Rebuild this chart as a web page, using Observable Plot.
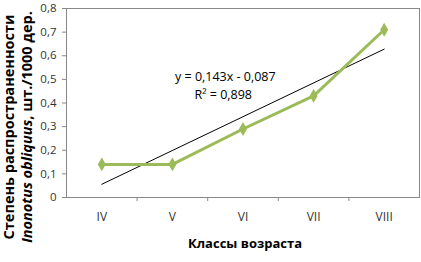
<!DOCTYPE html>
<html><head><meta charset="utf-8">
<script src="https://cdn.jsdelivr.net/npm/d3@7"></script>
<script src="https://cdn.jsdelivr.net/npm/@observablehq/plot@0.6"></script>
<style>body{margin:0;background:#fff;} svg{font-family:"Open Sans",sans-serif;}</style>
</head><body><div id="chart"></div>
<script>
const categories = ["IV", "V", "VI", "VII", "VIII"];
const values = [0.14, 0.14, 0.29, 0.43, 0.71];
const slope = 0.143, intercept = -0.087;
const equationText = "y = 0,143x - 0,087";
const r2Text = "R² = 0,898";
const yTicks = [0, 0.1, 0.2, 0.3, 0.4, 0.5, 0.6, 0.7, 0.8];

const data = categories.map((c, i) => ({x: i + 1, c, v: values[i]}));
const trend = [1, categories.length].map(x => ({x, v: slope * x + intercept}));
const fmt = d => d === 0 ? "0" : d.toFixed(1).replace(".", ",");

const plot = Plot.plot({
  width: 421, height: 262,
  marginLeft: 66, marginRight: 2, marginTop: 8, marginBottom: 65,
  style: {fontFamily: "'Open Sans', sans-serif", fontSize: "11px", color: "#333"},
  x: {domain: [0.5, categories.length + 0.5]},
  y: {domain: [0, 0.8]},
  marks: [
    Plot.frame({stroke: "#888", strokeWidth: 1}),
    Plot.axisY(yTicks, {tickFormat: fmt, tickSize: 4, tickPadding: 6, stroke: "#888", label: null, fontSize: 11.5}),
    Plot.axisX(d3.range(1.5, categories.length, 1), {tickFormat: () => "", tickSize: 4, stroke: "#888", label: null}),
    Plot.axisX(d3.range(1, categories.length + 1), {tickFormat: d => categories[d - 1], tickSize: 0, tickPadding: 15, label: null, fontSize: 12}),
    Plot.line(trend, {x: "x", y: "v", stroke: "#000", strokeWidth: 1}),
    Plot.line(data, {x: "x", y: "v", stroke: "#9BBB59", strokeWidth: 3}),
    Plot.dot(data, {x: "x", y: "v", symbol: "diamond", r: 3.3, fill: "#9BBB59", stroke: "#9BBB59"}),
    Plot.text([equationText], {x: 2.75, y: 0.51, text: d => d, fontSize: 12.5, fill: "#000"}),
    Plot.text([r2Text], {x: 2.72, y: 0.435, text: d => d, fontSize: 12.5, fill: "#000"})
  ]
});
document.getElementById("chart").append(plot);
const svg = d3.select(plot);
svg.append("text").attr("x", 245).attr("y", 248).attr("text-anchor", "middle")
  .attr("font-size", 13).attr("font-weight", "bold").attr("fill", "#000").text("Классы возраста");
const g = svg.append("g").attr("transform", "translate(14,127) rotate(-90)").attr("font-weight", "bold").attr("font-size", 14.5).attr("fill", "#000").attr("text-anchor", "middle");
g.append("text").attr("x", 0).attr("y", 0).text("Степень распространенности");
const t2 = g.append("text").attr("x", 0).attr("y", 18);
t2.append("tspan").attr("font-style", "italic").text("Inonotus obliquus");
t2.append("tspan").text(", шт./1000 дер.");
</script></body></html>
